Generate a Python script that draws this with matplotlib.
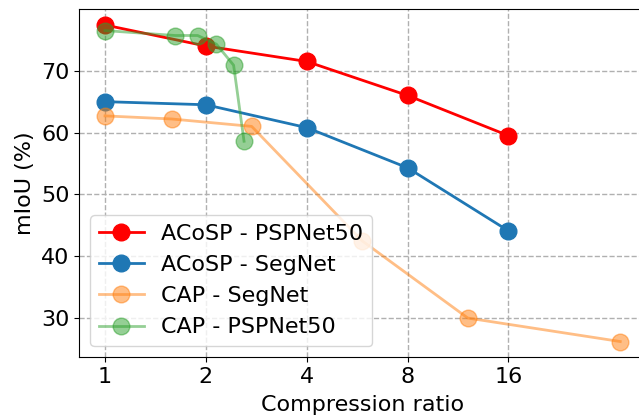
import numpy as np
import matplotlib
matplotlib.use("Agg")
import matplotlib.pyplot as plt
from matplotlib.ticker import FixedLocator, FixedFormatter, NullLocator

# ----------------------------------------------------------------------
# Data
# ----------------------------------------------------------------------
acosp_psp_x = [1, 2, 4, 8, 16]
acosp_psp_y = [77.4, 74.0, 71.5, 66.0, 59.5]

acosp_seg_x = [1, 2, 4, 8, 16]
acosp_seg_y = [65.0, 64.5, 60.8, 54.3, 44.1]

cap_seg_x = [1, 1.58, 2.74, 5.85, 12.1, 34.5]
cap_seg_y = [62.7, 62.2, 61.0, 42.5, 30.0, 26.2]

cap_psp_x = [1, 1.62, 1.89, 2.15, 2.42, 2.60]
cap_psp_y = [76.5, 75.7, 75.7, 74.3, 70.9, 58.6]

xticks = [1, 2, 4, 8, 16]

# ----------------------------------------------------------------------
# Plot
# ----------------------------------------------------------------------
plt.rcParams["font.size"] = 16

fig = plt.figure(figsize=(6.39, 4.17), dpi=100)
# right spine of the original falls just outside the cropped image
ax = fig.add_axes([0.124, 0.143, 0.887, 0.835])

ax.plot(acosp_psp_x, acosp_psp_y, "o-", color="red", ms=12, lw=2,
        label="ACoSP - PSPNet50")
ax.plot(acosp_seg_x, acosp_seg_y, "o-", color="tab:blue", ms=12, lw=2,
        label="ACoSP - SegNet")
ax.plot(cap_seg_x, cap_seg_y, "o-", color="tab:orange", ms=12, lw=2,
        alpha=0.5, label="CAP - SegNet")
ax.plot(cap_psp_x, cap_psp_y, "o-", color="tab:green", ms=12, lw=2,
        alpha=0.5, label="CAP - PSPNet50")

ax.set_xscale("log", base=2)
ax.xaxis.set_major_locator(FixedLocator(xticks))
ax.xaxis.set_major_formatter(FixedFormatter([str(t) for t in xticks]))
ax.xaxis.set_minor_locator(NullLocator())

ax.grid(True, linestyle="--", color="#b0b0b0", lw=1)
ax.set_xlabel("Compression ratio", labelpad=6)
ax.set_ylabel("mIoU (%)")
ax.legend(loc="lower left", fontsize=16)

fig.savefig("out.png", dpi=100)
